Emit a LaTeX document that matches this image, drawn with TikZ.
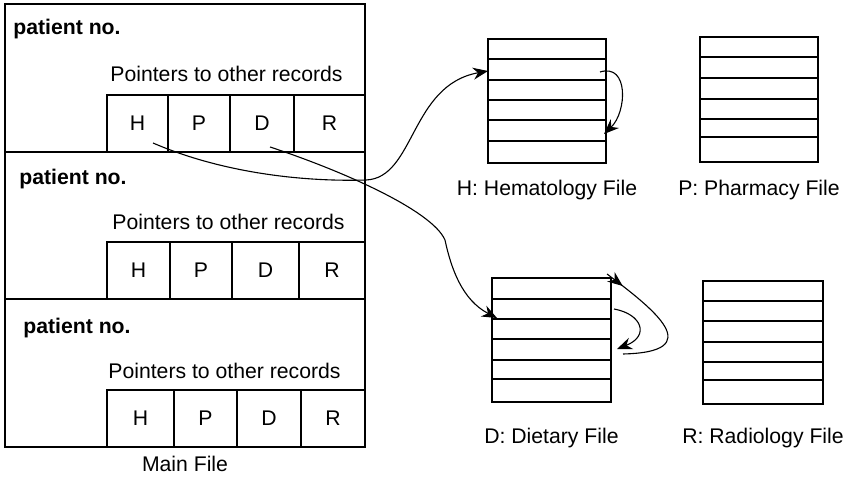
\documentclass[tikz,border=0pt]{standalone}
\usepackage{fontspec}
\setmainfont{Liberation Sans}
\usetikzlibrary{arrows.meta,decorations.markings}

\begin{document}
\begin{tikzpicture}[x=0.5pt,y=-0.5pt,
  txt/.style={font=\fontsize{10.6}{12.7}\selectfont, inner sep=0pt},
  frame/.style={draw, line width=0.65pt, inner sep=0pt, outer sep=0pt},
  sepline/.style={line width=1pt},
  cell/.style={draw, line width=0.6pt, inner sep=0pt, outer sep=0pt,
    minimum height=28.5pt, font=\fontsize{10.6}{12.7}\selectfont},
  filebox/.style={draw, line width=0.65pt, inner sep=0pt, outer sep=0pt, minimum width=59pt},
  rowline/.style={line width=0.6pt},
  ptr/.style={line width=0.55pt, -{Stealth[length=7.5pt,width=6pt]}},
  ptrmid/.style={line width=0.55pt, postaction={decorate},
    decoration={markings, mark=at position 0.14 with {\arrow{Stealth[length=7.5pt,width=6pt]}}}}
]
\useasboundingbox (0,0) rectangle (845,486);

% ---- Main file: three patient records ----
\node[frame, minimum width=180pt, minimum height=74pt] (rec1) at (185,78) {};
\node[frame, minimum width=180pt, minimum height=73.5pt] (rec2) at (185,225.5) {};
\node[frame, minimum width=180pt, minimum height=74pt] (rec3) at (185,373) {};
\draw[sepline] (rec1.south west) -- (rec1.south east);
\draw[sepline] (rec2.south west) -- (rec2.south east);

\node[txt, anchor=base west, font=\fontsize{10.6}{12.7}\selectfont\bfseries] (pn1) at (13,35) {patient no.};
\node[txt, anchor=base west, font=\fontsize{10.6}{12.7}\selectfont\bfseries] (pn2) at (19,185) {patient no.};
\node[txt, anchor=base west, font=\fontsize{10.6}{12.7}\selectfont\bfseries] (pn3) at (23,333) {patient no.};

\node[txt, anchor=base west] (pt1) at (110,82) {Pointers to other records};
\node[txt, anchor=base west] (pt2) at (112,229) {Pointers to other records};
\node[txt, anchor=base west] (pt3) at (108,378) {Pointers to other records};

% pointer cells
\foreach \cx/\w/\lab in {137.5/30.5/H, 199/31/P, 262/32/D, 329.5/35.5/R}
  \node[cell, minimum width=\w pt] (r1\lab) at (\cx,123.5) {\lab};
\foreach \cx/\w/\lab in {138.5/31.5/H, 201/31/P, 265.5/33.5/D, 332/33/R}
  \node[cell, minimum width=\w pt] (r2\lab) at (\cx,270.5) {\lab};
\foreach \cx/\w/\lab in {140.5/33.5/H, 205.5/31.5/P, 269/32/D, 333/32/R}
  \node[cell, minimum width=\w pt] (r3\lab) at (\cx,418.5) {\lab};

\node[txt] (mainlbl) at (185,464) {Main File};

% ---- Other files ----
\node[filebox, minimum height=62pt] (hem) at (547,101) {};
\foreach \y in {59,80,100,120,141} \draw[rowline] (hem.west |- 0,\y) -- (hem.east |- 0,\y);
\node[txt] (hemlbl) at (547,190) {H: Hematology File};

\node[filebox, minimum height=62.5pt] (pha) at (759,99.5) {};
\foreach \y in {57,78,99,119,137} \draw[rowline] (pha.west |- 0,\y) -- (pha.east |- 0,\y);
\node[txt] (phalbl) at (759,190) {P: Pharmacy File};

\node[filebox, minimum width=59.5pt, minimum height=62pt] (die) at (551.5,340) {};
\foreach \y in {299,319,339,360,379} \draw[rowline] (die.west |- 0,\y) -- (die.east |- 0,\y);
\node[txt] (dielbl) at (551.5,438) {D: Dietary File};

\node[filebox, minimum width=60pt, minimum height=61.5pt] (rad) at (763,342.5) {};
\foreach \y in {301,321,342,362,380} \draw[rowline] (rad.west |- 0,\y) -- (rad.east |- 0,\y);
\node[txt] (radlbl) at (763,438) {R: Radiology File};

% ---- Pointer connectors ----
\coordinate (hfrom) at (153,143);
\coordinate (hto) at (488,71);
\coordinate (dfrom) at (270,147);
\coordinate (dto) at (497,318);
\coordinate (hemA) at (600,72);
\coordinate (hemB) at (604,134);
\coordinate (dieA) at (614,309);
\coordinate (dieB) at (617,349);
\coordinate (dieC) at (607,274);
\coordinate (dieD) at (623,354);

\draw[ptr] (hfrom) .. controls (220,172) and (300,182) .. (366,180)
                   .. controls (415,178) and (410,85) .. (hto);
\draw[ptr] (dfrom) .. controls (340,170) and (432,210) .. (445,240)
                   .. controls (451,268) and (462,300) .. (dto);
\draw[ptr] (hemA) .. controls (629,63) and (627,112) .. (hemB);
\draw[ptr] (dieA) .. controls (642,314) and (650,336) .. (dieB);
\draw[ptrmid] (dieC) .. controls (655,310) and (708,352) .. (dieD);
\end{tikzpicture}
\end{document}
